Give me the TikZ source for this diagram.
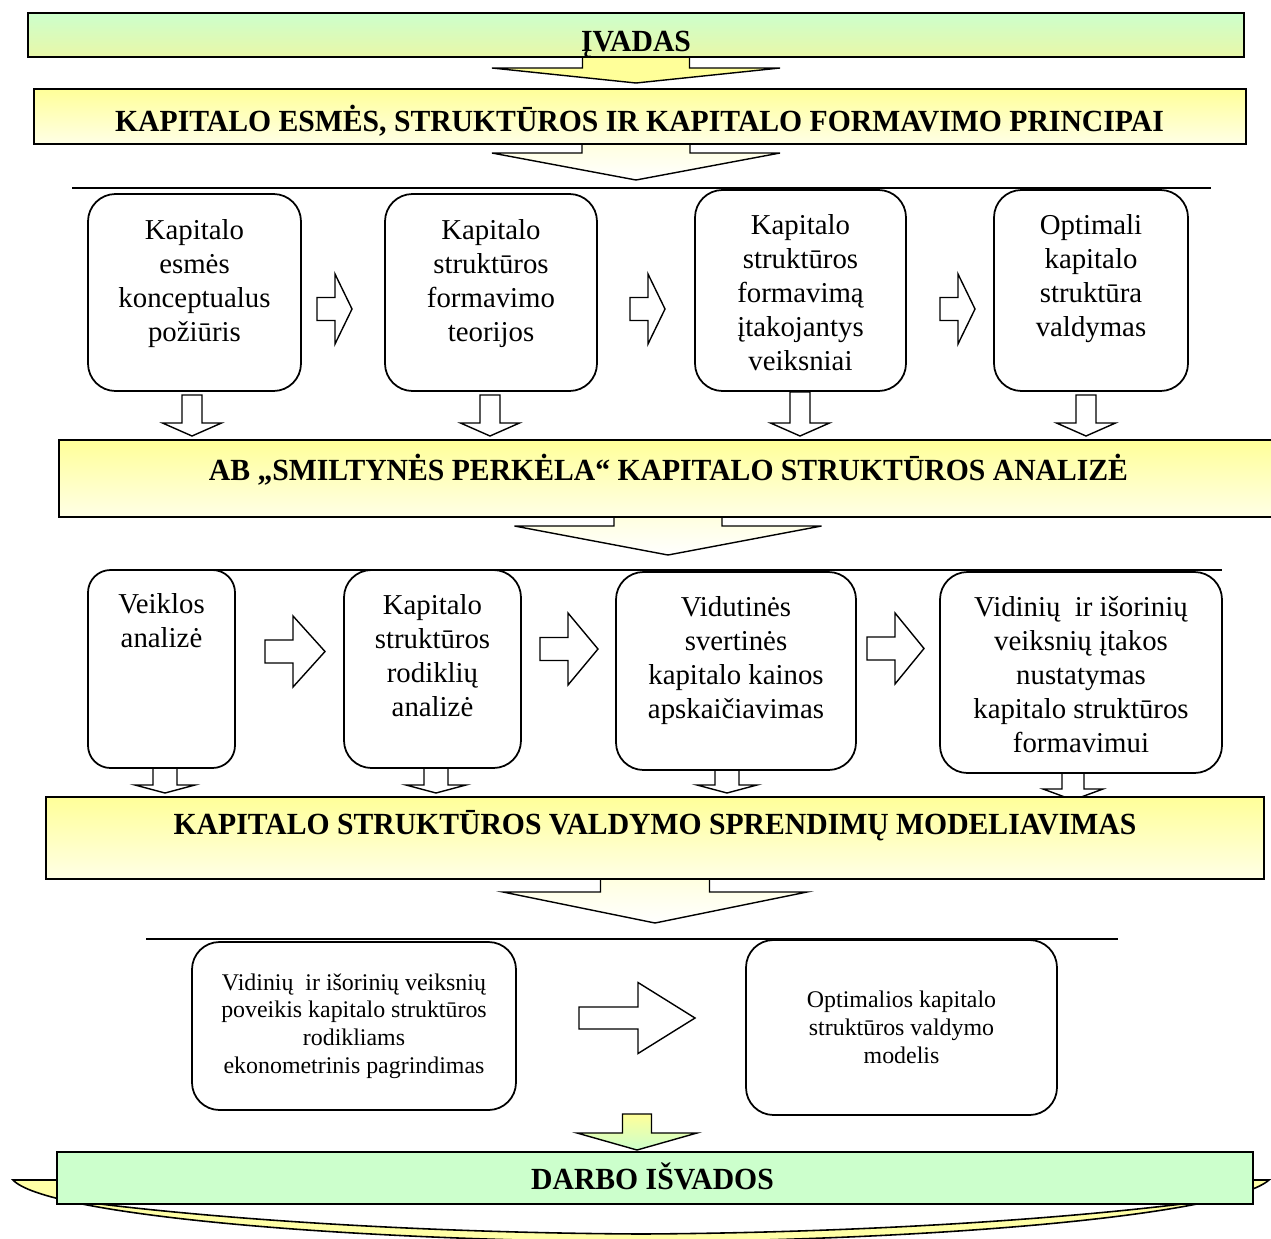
\documentclass[tikz,border=0pt]{standalone}
\usepackage{fontspec}
\setmainfont{Liberation Serif}
\newfontfamily\headfont[FakeStretch=0.965]{Liberation Serif}
\usetikzlibrary{positioning, calc, fit}

\definecolor{ivadasGreen}{HTML}{CCFFCC}
\definecolor{ivadasLow}{HTML}{E9F7A8}
\definecolor{barYellow}{HTML}{FFFF99}
\definecolor{barLow}{HTML}{FFFFE6}
\definecolor{arrowLight}{HTML}{FFFFE0}
\definecolor{ribbonYellow}{HTML}{FFFFA6}

%block arrows: [style]{x}{top}{tip}{shaft half width}{head half width}{head length}
\newcommand{\downblock}[7][]{%
	\draw[blockarrow,#1] ({#2-#5},#3) -- ({#2+#5},#3) -- ({#2+#5},{#4-#7}) -- ({#2+#6},{#4-#7})
	-- (#2,#4) -- ({#2-#6},{#4-#7}) -- ({#2-#5},{#4-#7}) -- cycle;}
%[style]{left x}{centre y}{tip x}{shaft half height}{head half height}{head length}
\newcommand{\rightblock}[7][]{%
	\draw[blockarrow,#1] (#2,{#3-#5}) -- ({#4-#7},{#3-#5}) -- ({#4-#7},{#3-#6}) -- (#4,#3)
	-- ({#4-#7},{#3+#6}) -- ({#4-#7},{#3+#5}) -- (#2,{#3+#5}) -- cycle;}

\tikzset{
	bar/.style={draw, line width=1.2pt, inner sep=0pt},
	greenbar/.style={bar, top color=ivadasGreen, bottom color=ivadasLow},
	yellowbar/.style={bar, top color=barYellow, bottom color=barLow},
	roundbox/.style={draw, fill=white, line width=1pt, rounded corners=0.55cm, inner sep=0pt},
	bartext/.style={font=\headfont\bfseries\fontsize{17.5}{21}\selectfont, inner sep=0pt, anchor=base},
	boxtext/.style={font=\fontsize{16.4}{19.3}\selectfont, align=center, inner sep=0pt, anchor=north},
	smalltext/.style={font=\fontsize{13.6}{15.8}\selectfont, align=center, inner sep=0pt},
	blockarrow/.style={draw, line width=0.8pt, fill=white, line join=miter},
	divider/.style={line width=1.1pt}
}

\begin{document}
\begin{tikzpicture}[x=0.02cm, y=-0.02cm]
		
		\useasboundingbox (0,0) rectangle (1271,1238);
		
		%Ribbon under the conclusions
		\filldraw[fill=ribbonYellow, line width=0.9pt] (13,1180) -- (1269,1180) .. controls (1230,1214) and (952,1240) .. (641,1242)
		.. controls (330,1240) and (45,1214) .. (13,1180) -- cycle;
		\filldraw[fill=white, line width=0.9pt] (100,1204) .. controls (250,1222) and (450,1233) .. (641,1234)
		.. controls (832,1233) and (1032,1222) .. (1182,1204) -- cycle;
		
		%Lines over the rows
		\draw[divider] (72,188) coordinate (lineOneL) -- (1211,188) coordinate (lineOneR);
		\draw[divider] (115,570) coordinate (lineTwoL) -- (1222,570) coordinate (lineTwoR);
		\draw[divider] (146,939) coordinate (lineThreeL) -- (1118,939) coordinate (lineThreeR);
		
		%Wide arrows between the bars
		\downblock[fill=barYellow]{636}{57}{83}{53.5}{144}{15}
		\downblock[top color=arrowLight, bottom color=white]{636}{144}{180}{54}{144}{27}
		\downblock[top color=arrowLight, bottom color=white]{668}{517}{555}{54}{153.5}{29}
		\downblock[top color=arrowLight, bottom color=white]{655}{879}{923}{54.5}{152}{31}
		\downblock[top color=barYellow, bottom color=ivadasGreen]{637}{1114}{1150}{14.5}{60}{17}
		
		%Arrows under the first row
		\downblock{192}{395}{436}{10}{29.5}{13}
		\downblock{490}{395}{436}{10}{29.5}{13}
		\downblock{800}{392}{436}{10}{29.5}{13}
		\downblock{1086}{395}{436}{10}{29.5}{13}
		
		%Arrows under the second row
		\downblock{165}{768}{793}{12}{30}{8}
		\downblock{436}{768}{793}{12}{30}{8}
		\downblock{727}{770}{793}{12}{30}{8}
		\downblock{1073}{773}{800}{11}{30}{11}
		
		%Arrows inside the rows
		\rightblock{317}{309}{352}{11.5}{35}{17}
		\rightblock{630}{309}{665}{11.5}{35}{17}
		\rightblock{940}{309}{975}{11.5}{35}{17}
		\rightblock{265}{651.5}{325}{11.5}{35.5}{32}
		\rightblock{540}{649}{598}{11.5}{36}{30}
		\rightblock{867}{648.5}{924}{11.5}{35.5}{29}
		\rightblock{579}{1018}{695}{11}{35.5}{57}
		
		%Bars
		\node (ivadas) [greenbar, fit={(28,13) (1244,57)}]{};
		\node (principai) [yellowbar, fit={(34,89) (1246,144)}]{};
		\node (analize) [yellowbar, fit={(59,440) (1285,517)}]{};
		\node (modeliavimas) [yellowbar, fit={(46,797) (1264,879)}]{};
		\node (isvados) [bar, fill=ivadasGreen, fit={(57,1152) (1253,1204)}]{};
		
		\node (ivadasText) at (636,51) [bartext]{ĮVADAS};
		\node (principaiText) at (639.5,131) [bartext]{KAPITALO ESMĖS, STRUKTŪROS IR KAPITALO FORMAVIMO PRINCIPAI};
		\node (analizeText) at (668.5,480) [bartext]{AB „SMILTYNĖS PERKĖLA“ KAPITALO STRUKTŪROS ANALIZĖ};
		\node (modeliavimasText) at (655,834) [bartext]{KAPITALO STRUKTŪROS VALDYMO SPRENDIMŲ MODELIAVIMAS};
		\node (isvadosText) at (652.5,1189) [bartext]{DARBO IŠVADOS};
		
		%First row
		\node (esme) [roundbox, fit={(88,194) (301,391)}]{};
		\node (teorijos) [roundbox, fit={(385,194) (597,391)}]{};
		\node (veiksniai) [roundbox, fit={(695,190) (906,391)}]{};
		\node (optimali) [roundbox, fit={(994,190) (1188,391)}]{};
		
		\node (esmeText) at ($(esme.north)+(0,26)$) [boxtext]{Kapitalo\\esmės\\konceptualus\\požiūris};
		\node (teorijosText) at ($(teorijos.north)+(0,26)$) [boxtext]{Kapitalo\\struktūros\\formavimo\\teorijos};
		\node (veiksniaiText) at ($(veiksniai.north)+(0,25)$) [boxtext]{Kapitalo\\struktūros\\formavimą\\įtakojantys\\veiksniai};
		\node (optimaliText) at ($(optimali.north)+(0,25)$) [boxtext]{Optimali\\kapitalo\\struktūra\\valdymas};
		
		%Second row
		\node (veikla) [roundbox, rounded corners=0.45cm, fit={(88,570) (235,768)}]{};
		\node (rodikliai) [roundbox, fit={(344,570) (521,768)}]{};
		\node (kaina) [roundbox, fit={(616,572) (856,770)}]{};
		\node (itaka) [roundbox, fit={(940,572) (1222,773)}]{};
		
		\node (veiklaText) at ($(veikla.north)+(0,24)$) [boxtext]{Veiklos\\analizė};
		\node (rodikliaiText) at ($(rodikliai.north)+(0,25)$) [boxtext]{Kapitalo\\struktūros\\rodiklių\\analizė};
		\node (kainaText) at ($(kaina.north)+(0,25)$) [boxtext]{Vidutinės\\svertinės\\kapitalo kainos\\apskaičiavimas};
		\node (itakaText) at ($(itaka.north)+(0,25)$) [boxtext]{Vidinių\ \ ir išorinių\\veiksnių įtakos\\nustatymas\\kapitalo struktūros\\formavimui};
		
		%Third row
		\node (poveikis) [roundbox, fit={(192,942) (516,1110)}]{};
		\node (modelis) [roundbox, fit={(746,940) (1057,1115)}]{};
		
		\node (poveikisText) at (poveikis.center) [smalltext]{Vidinių\ \ ir išorinių veiksnių\\poveikis kapitalo struktūros\\rodikliams\\ekonometrinis pagrindimas};
		\node (modelisText) at (modelis.center) [smalltext]{Optimalios kapitalo\\struktūros valdymo\\modelis};
		
\end{tikzpicture}
\end{document}
